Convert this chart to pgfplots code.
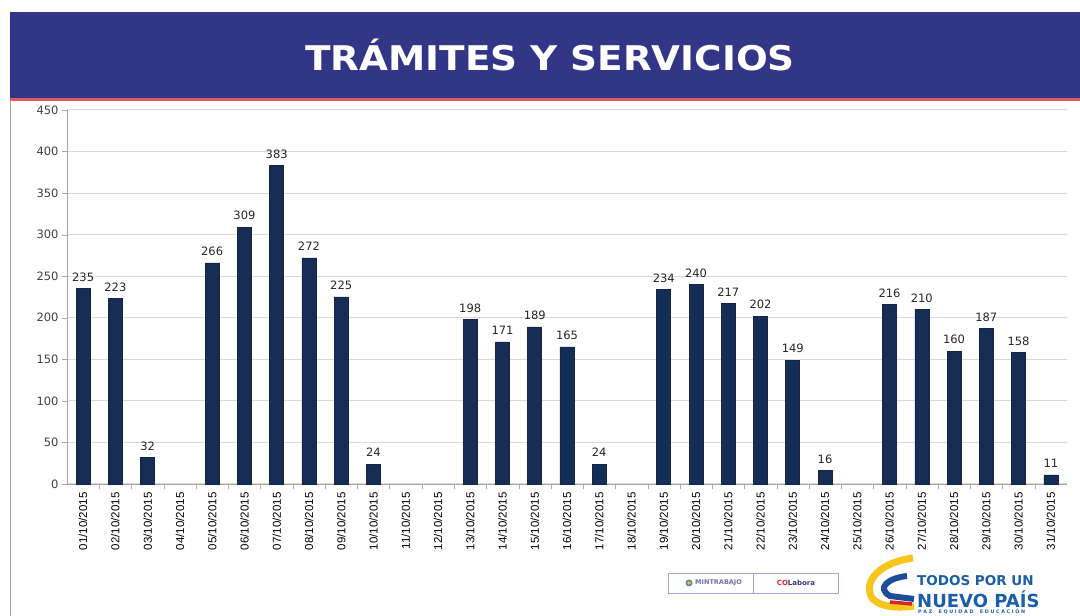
\documentclass[border=0pt]{standalone}
\usepackage{pgfplots}
\pgfplotsset{compat=1.18}
\usepackage{fontspec}
\setmainfont{DejaVu Sans}
\newfontfamily\lib{Liberation Sans}
\definecolor{banner}{HTML}{333686}
\definecolor{barcol}{HTML}{27487C}
\definecolor{bardark}{HTML}{162E55}
\definecolor{gridc}{HTML}{D9D9D9}
\definecolor{axc}{HTML}{A6A6A6}
\definecolor{txt}{HTML}{404040}
\definecolor{logoblue}{HTML}{1B5FA8}
\definecolor{ylw}{HTML}{F7C51E}
\definecolor{rd}{HTML}{D9262C}
\definecolor{fblue}{HTML}{1D4E9E}
\begin{document}
\begin{tikzpicture}
\useasboundingbox (0pt,0pt) rectangle (1080pt,616pt);
\fill[white] (0pt,0pt) rectangle (1080pt,616pt);
\fill[banner] (10pt,518pt) rectangle (1080pt,604pt);
\fill[rd!75!white] (10pt,515pt) rectangle (1080pt,518pt);
\draw[axc,line width=1pt] (10pt,0pt) -- (10pt,515pt);
\node[white,inner sep=0pt,font=\fontsize{34}{34}\selectfont\bfseries] at (550pt,561pt) {\scalebox{1.1}[1]{TRÁMITES Y SERVICIOS}};
\begin{axis}[
  at={(67pt,132pt)}, anchor=south west,
  width=1000pt, height=374pt, scale only axis,
  xmin=-0.5, xmax=30.5, ymin=0, ymax=450,
  ytick distance=50,
  xtick={0,...,30},
  xticklabels={01/10/2015,02/10/2015,03/10/2015,04/10/2015,05/10/2015,06/10/2015,07/10/2015,08/10/2015,09/10/2015,10/10/2015,11/10/2015,12/10/2015,13/10/2015,14/10/2015,15/10/2015,16/10/2015,17/10/2015,18/10/2015,19/10/2015,20/10/2015,21/10/2015,22/10/2015,23/10/2015,24/10/2015,25/10/2015,26/10/2015,27/10/2015,28/10/2015,29/10/2015,30/10/2015,31/10/2015},
  x tick label style={rotate=90, anchor=east, font=\lib\fontsize{11.5}{12}\selectfont, text=black},
  y tick label style={font=\fontsize{11.5}{12}\selectfont, text=txt},
  /pgf/number format/assume math mode=true,
  minor x tick num=1,
  major x tick style={draw=none},
  minor x tick style={axc},
  y tick style={axc},
  tick align=outside,
  major tick length=5pt, minor tick length=5pt,
  xtick pos=bottom, ytick pos=left,
  axis x line*=bottom, axis y line*=left,
  axis line style={axc, line width=0.8pt},
  ymajorgrids, grid style={gridc, line width=1pt},
  ybar, bar width=14pt,
  nodes near coords,
  nodes near coords style={font=\fontsize{11.5}{12}\selectfont, text=black!85, yshift=3.5pt},
  enlargelimits=false,
  clip=false,
]
\addplot[left color=bardark, middle color=barcol, right color=bardark, draw=bardark!80!black, line width=0.6pt] coordinates {
(0,235) (1,223) (2,32) (4,266) (5,309) (6,383) (7,272) (8,225) (9,24)
(12,198) (13,171) (14,189) (15,165) (16,24)
(18,234) (19,240) (20,217) (21,202) (22,149) (23,16)
(25,216) (26,210) (27,160) (28,187) (29,158) (30,11)};
\end{axis}
% logos
\draw[axc!60!blue!60, line width=0.8pt] (668pt,23pt) rectangle (838pt,43pt);
\draw[axc!60!blue!60, line width=0.8pt] (753pt,23pt) -- (753pt,43pt);
\fill[fblue!70] (689pt,33pt) circle (3.5pt);
\fill[ylw] (689pt,33pt) circle (1.8pt);
\node[anchor=west, inner sep=0pt, font=\fontsize{6.5}{7}\selectfont\bfseries, text=banner!70] at (695pt,33pt) {MINTRABAJO};
\node[inner sep=0pt, font=\fontsize{7}{7}\selectfont\bfseries, text=rd] at (796pt,33.5pt) {CO\textcolor{banner}{Labora}};
\draw[ylw, line width=7pt] (913pt,58pt) .. controls (882pt,54pt) and (862pt,36pt) .. (872pt,18pt) .. controls (880pt,8pt) and (900pt,8pt) .. (914pt,10pt);
\draw[fblue, line width=6pt] (907pt,40pt) .. controls (888pt,38pt) and (876pt,28pt) .. (890pt,20pt) -- (914pt,17pt);
\draw[rd, line width=3.5pt] (890pt,14pt) -- (912pt,12pt);
\node[anchor=west, inner sep=0pt, font=\fontsize{13.5}{14}\selectfont\bfseries, text=logoblue] at (917pt,35pt) {TODOS POR UN};
\node[anchor=west, inner sep=0pt, font=\fontsize{18}{18}\selectfont\bfseries, text=logoblue] at (917pt,17pt) {NUEVO PAÍS};
\node[anchor=west, inner sep=0pt, font=\fontsize{4.8}{5}\selectfont\bfseries, text=logoblue] at (918pt,4pt) {P A Z \quad E Q U I D A D \quad E D U C A C I Ó N};
\end{tikzpicture}
\end{document}
